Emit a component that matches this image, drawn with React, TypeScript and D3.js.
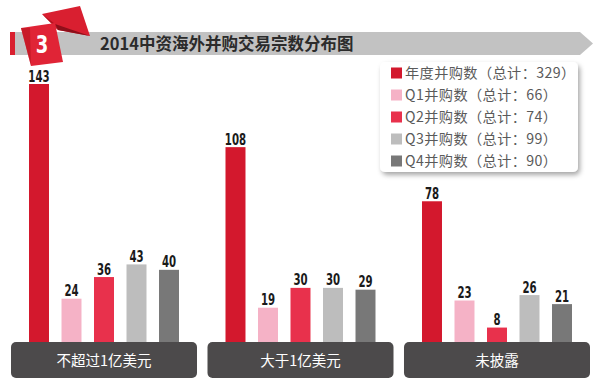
import React from "react";
import * as d3 from "d3";

// chart data
const categories = ["不超过1亿美元", "大于1亿美元", "未披露"];
const seriesNames = ["年度并购数", "Q1并购数", "Q2并购数", "Q3并购数", "Q4并购数"];
const seriesTotals = [329, 66, 74, 99, 90];
const annual = [143, 108, 78];
const q1 = [24, 19, 23];
const q2 = [36, 30, 8];
const q3 = [43, 30, 26];
const q4 = [40, 29, 21];
const colors = ["#d3182d", "#f5b2c6", "#e8314c", "#bdbdbd", "#787878"];
const title = "2014中资海外并购交易宗数分布图";

const W = 600;
const H = 386;

const App = () => {
  const values = [annual, q1, q2, q3, q4];
  const baseline = 342;

  const x = d3.scaleBand().domain(categories).range([11, 590]).paddingInner(0.0534);
  const inner = d3.scaleBand().domain(seriesNames).range([18, 168]).paddingInner(0.385);
  const y = d3.scaleLinear().domain([0, 143]).range([baseline, 84]);

  const numFont = "'DejaVu Sans', sans-serif";
  const cjkFont = "'Noto Sans CJK SC', 'Noto Sans', sans-serif";

  return (
    <svg width={W} height={H} style={{ position: "absolute", left: 0, top: 0, background: "#fff" }}>
      <defs>
        <filter id="shadow" x="-10%" y="-10%" width="130%" height="140%">
          <feDropShadow dx="2" dy="3" stdDeviation="2.5" floodColor="#000" floodOpacity="0.35" />
        </filter>
      </defs>

      {/* title banner */}
      <rect x={10} y={32} width={5} height={23} fill="#d9202f" />
      <path d="M15,32 L580,32 L593,43.5 L580,55 L15,55 Z" fill="#c2c2c2" />
      {/* ribbon badge */}
      <path d="M42,14 L80,6 L90,36 L58,30 Z" fill="#d91f30" />
      <path d="M55,24 L58,30 L90,36 Z" fill="#8e0f1a" />
      <path d="M42,14 L55,24 L58,30 Z" fill="#b3121f" />
      <path d="M21,28 L55,23 L63,62 L31,66 Z" fill="#e02436" />
      <path d="M21,28 L30,28 L31,66 Z" fill="#b8141f" opacity={0.6} />
      <text transform="translate(42,53) scale(0.75,1)" textAnchor="middle" fill="#fff" fontFamily={numFont} fontWeight="bold" fontSize={24}>3</text>
      <text x={100} y={50} fill="#2b2b2b" fontFamily={cjkFont} fontWeight="bold" fontSize={16.5}>{title}</text>

      {/* bars */}
      {categories.map((c, ci) => (
        <g key={c} transform={`translate(${x(c)},0)`}>
          {seriesNames.map((s, si) => {
            const v = values[si][ci];
            const bx = inner(s) as number;
            return (
              <g key={s}>
                <rect x={bx} y={y(v)} width={inner.bandwidth()} height={baseline - y(v)} fill={colors[si]} />
                <text transform={`translate(${bx + inner.bandwidth() / 2},${y(v) - 2.5}) scale(0.68,1)`}
                  textAnchor="middle" fill="#1a1a1a" fontFamily={numFont} fontWeight="bold" fontSize={15}>{v}</text>
              </g>
            );
          })}
          <rect x={0} y={baseline} width={x.bandwidth()} height={36} rx={5} fill="#4c4a4b" />
          <text x={x.bandwidth() / 2} y={366} textAnchor="middle" fill="#fff" fontFamily={cjkFont} fontSize={14.5}>{c}</text>
        </g>
      ))}

      {/* legend */}
      <g>
        <rect x={380} y={62} width={198} height={110} rx={5} fill="#fff" filter="url(#shadow)" />
        {seriesNames.map((s, i) => (
          <g key={s} transform={`translate(391,${73 + i * 22})`}>
            <rect x={0} y={-5.5} width={11} height={11} fill={colors[i]} />
            <text x={14} y={5} fill="#5a5a5a" fontFamily={cjkFont} fontSize={14.2} letterSpacing={0.4}>{`${s}（总计：${seriesTotals[i]}）`}</text>
          </g>
        ))}
      </g>
    </svg>
  );
};

export default App;
